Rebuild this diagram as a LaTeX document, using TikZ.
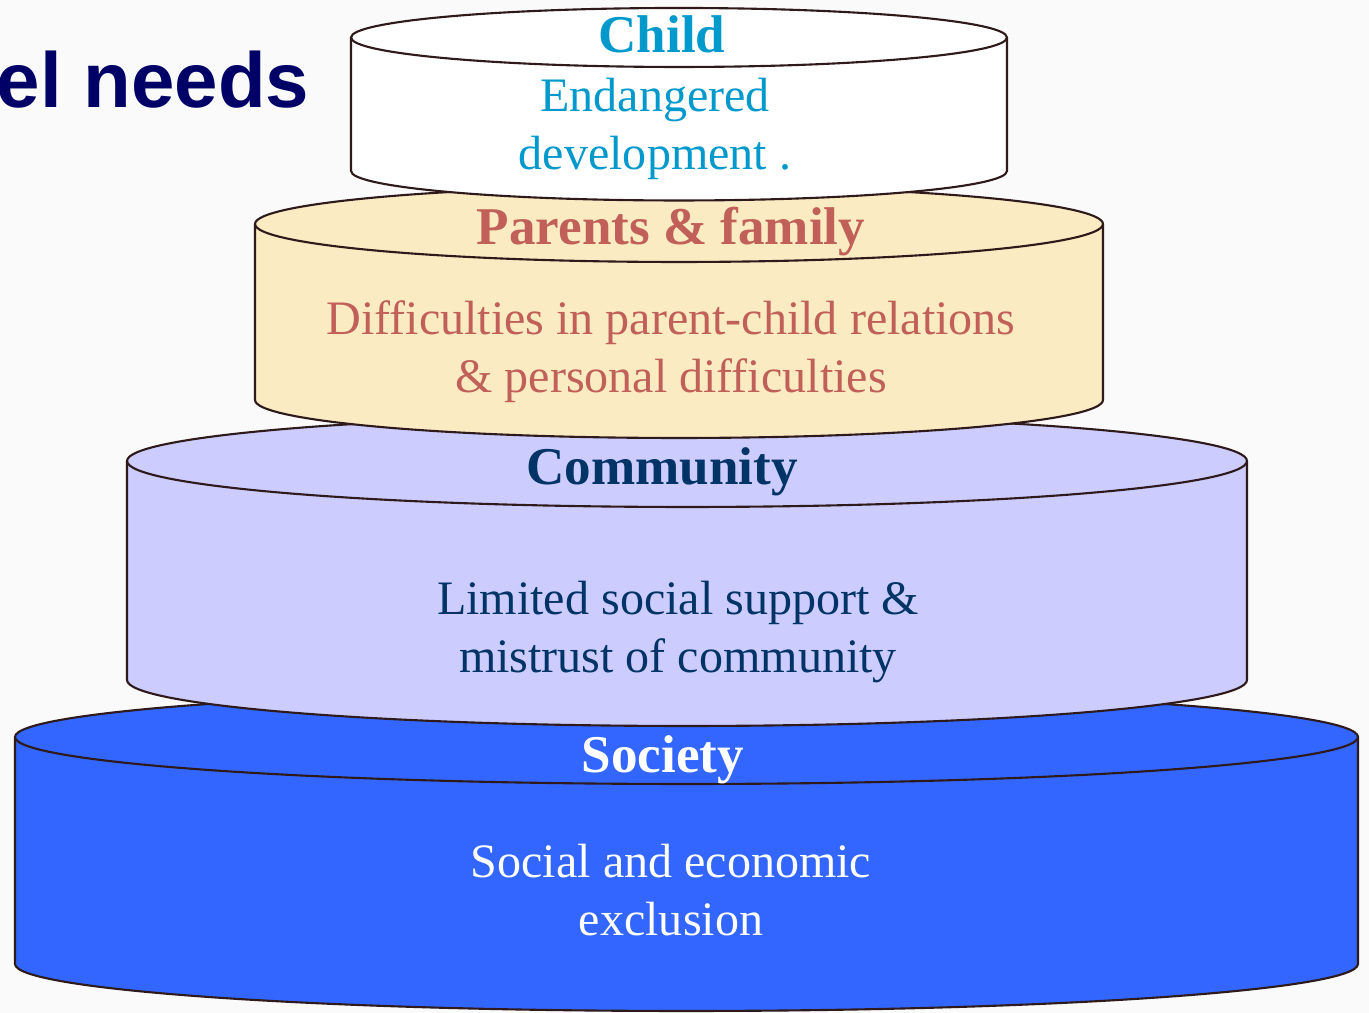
\documentclass[tikz,border=0pt]{standalone}
\usepackage{fontspec}
\setmainfont{Liberation Serif}
\newfontfamily\titlefont{Liberation Sans}
\usepackage{xcolor}

\definecolor{rim}{RGB}{46,26,26}
\definecolor{titlenavy}{RGB}{0,0,102}
\definecolor{childtxt}{RGB}{0,153,204}
\definecolor{familytxt}{RGB}{192,96,88}
\definecolor{familyfill}{RGB}{250,235,195}
\definecolor{commtxt}{RGB}{0,51,102}
\definecolor{commfill}{RGB}{204,204,255}
\definecolor{socfill}{RGB}{51,102,255}
\definecolor{paper}{RGB}{250,250,251}

\begin{document}
\begin{tikzpicture}[x=0.01cm,y=0.01cm]
      \tikzstyle{every node}+=[inner sep=0pt]
      \tikzstyle{layer}=[draw=rim, line width=0.6pt]
      \tikzstyle{head}=[font=\bfseries\fontsize{15.1}{18}\selectfont, anchor=base]
      \tikzstyle{body}=[font=\fontsize{13.66}{16.5}\selectfont, align=center, anchor=base]
      \useasboundingbox (0,0) rectangle (1369,1013);
      \fill [paper] (0,0) rectangle (1369,1013);
      \node [font=\titlefont\bfseries\fontsize{22.2}{26}\selectfont, text=titlenavy, anchor=base east] (title) at (310,905) {el needs};
      % society, bottom layer
      \filldraw [layer, fill=socfill] (15,276) -- (15,49) arc (180:360:671.5 and 47) -- (1358,276) arc (0:180:671.5 and 47) -- cycle;
      \draw [layer] (15,276) arc (180:360:671.5 and 47);
      \node [head, text=white] (society) at (663,240) {Society};
      \node [body, text=white] (societytxt) at (671,77) {Social and economic\\exclusion};
      % community
      \filldraw [layer, fill=commfill] (127,552) -- (127,333) arc (180:360:560 and 46) -- (1247,552) arc (0:180:560 and 46) -- cycle;
      \draw [layer] (127,552) arc (180:360:560 and 46);
      \node [head, text=commtxt] (community) at (662,528) {Community};
      \node [body, text=commtxt] (communitytxt) at (678,340) {Limited social support \&\\mistrust of community};
      % parents and family
      \filldraw [layer, fill=familyfill] (255,789) -- (255,613) arc (180:360:424 and 38) -- (1103,789) arc (0:180:424 and 38) -- cycle;
      \draw [layer] (255,789) arc (180:360:424 and 38);
      \node [head, text=familytxt] (family) at (671,768) {Parents \& family};
      \node [body, text=familytxt] (familytxt) at (671,620) {Difficulties in parent-child relations\\\& personal difficulties};
      % child, top layer
      \filldraw [layer, fill=white] (351,975.5) -- (351,842) arc (180:360:328 and 29.5) -- (1007,975.5) arc (0:180:328 and 29.5) -- cycle;
      \draw [layer] (351,975.5) arc (180:360:328 and 29.5);
      \node [head, text=childtxt] (child) at (662,960) {Child};
      \node [body, text=childtxt] (childtxt) at (655,843) {Endangered\\development .};
\end{tikzpicture}
\end{document}
